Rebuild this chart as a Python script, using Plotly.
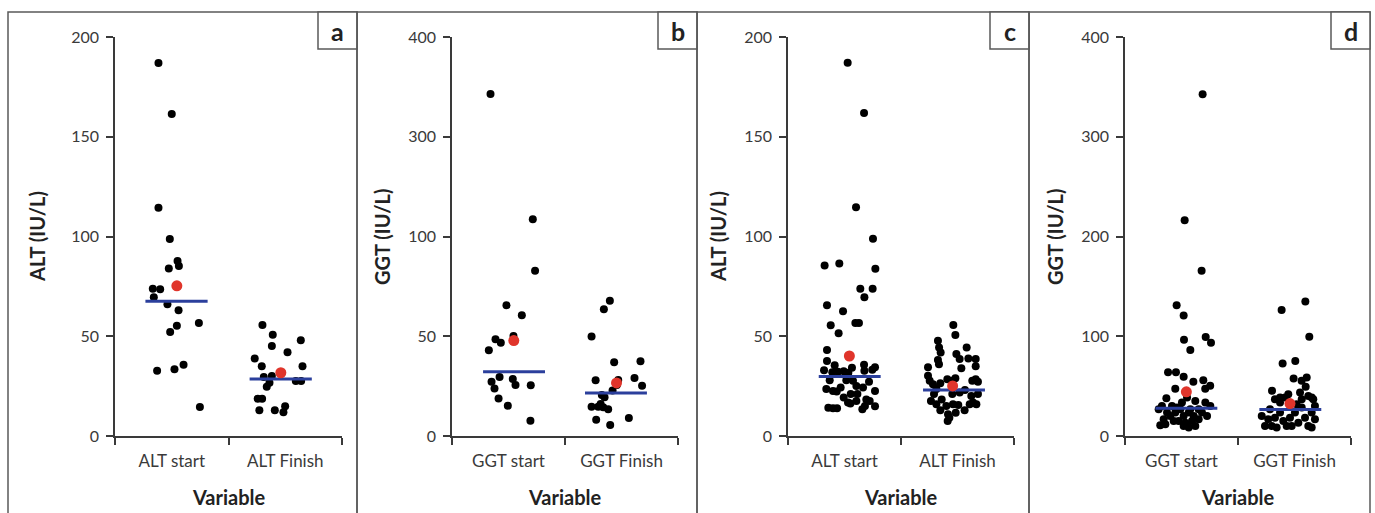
import plotly.graph_objects as go

W, H = 1375, 513

# ---------------- data ----------------
categories_alt = ["ALT start", "ALT Finish"]
categories_ggt = ["GGT start", "GGT Finish"]

# Panel a (ALT)
a_start_vals = [187.0, 161.4, 114.4, 98.7, 87.7, 85.2, 84.0, 73.8, 73.5, 69.5, 66.0, 63.0, 56.6, 55.3, 52.1, 35.7, 33.4, 32.7, 14.5]
a_start_jit = [-0.117, 0.0, -0.117, -0.017, 0.051, 0.063, -0.026, -0.167, -0.102, -0.158, -0.038, 0.060, 0.239, 0.045, -0.014, 0.104, 0.024, -0.129, 0.248]
a_finish_vals = [55.6, 50.8, 48.0, 45.1, 42.0, 38.8, 34.9, 34.9, 30.1, 29.6, 27.6, 27.6, 26.7, 24.7, 18.7, 18.7, 12.9, 12.9, 14.9, 11.9]
a_finish_jit = [-0.201, -0.110, 0.137, -0.118, 0.020, -0.269, -0.207, 0.152, -0.118, -0.189, 0.093, 0.140, -0.139, -0.163, -0.243, -0.204, -0.228, -0.092, -0.001, -0.016]
a_means = [75.3, 31.7]
a_means_jit = [0.045, -0.039]
a_medians = [67.5, 28.6]
a_medians_jit = [0.042, -0.040]

# Panel b (GGT) - plotted on the printed (non-uniform label) scale
b_tickvals = [0, 100, 200, 300, 400]
b_ticktext = ["0", "50", "100", "300", "400"]
b_start_vals = [342.8, 217.4, 165.6, 131.1, 121.1, 100.3, 97.0, 93.6, 86.0, 54.5, 59.2, 57.2, 51.2, 50.8, 47.5, 37.5, 30.4, 15.4]
b_start_jit = [-0.159, 0.215, 0.235, -0.018, 0.118, 0.044, -0.115, -0.068, -0.174, -0.150, -0.079, 0.038, 0.062, 0.197, -0.124, -0.088, -0.006, 0.194]
b_finish_vals = [135.5, 127.1, 99.7, 73.9, 74.9, 55.9, 56.2, 58.2, 51.2, 50.5, 45.5, 41.1, 38.8, 29.4, 29.4, 32.1, 28.8, 26.8, 16.4, 18.1, 11.0]
b_finish_jit = [-0.103, -0.156, -0.265, -0.065, 0.168, -0.229, -0.029, 0.115, -0.041, 0.182, -0.079, -0.174, -0.150, -0.265, -0.206, -0.185, -0.162, -0.118, -0.224, 0.065, -0.100]
b_means = [95.7, 53.2]
b_means_jit = [0.047, -0.044]
b_medians = [64.5, 43.1]
b_medians_jit = [0.049, -0.049]

# Panel c (ALT)
c_start_vals = [187.1, 161.9, 114.7, 98.9, 85.5, 86.5, 83.8, 73.8, 73.8, 69.6, 65.5, 62.5, 55.5, 56.7, 56.7, 51.5, 43.1, 37.6, 35.5, 33.0,
                35.7, 34.4, 34.2, 31.9, 32.2, 32.4, 31.7, 32.7, 33.2, 28.0, 28.0, 27.7, 25.1, 27.2, 23.5, 22.6, 24.3, 22.3, 21.0, 21.0,
                24.3, 22.6, 19.3, 16.8, 17.6, 18.3, 17.6, 14.2, 13.9, 13.9, 16.3, 13.4, 15.1, 14.9]
c_start_jit = [0.028, 0.173, 0.102, 0.252, -0.176, -0.046, 0.273, 0.140, 0.249, 0.176, -0.155, -0.013, -0.122, 0.096, 0.128, -0.052, -0.155, -0.155, -0.087, -0.181,
               0.173, 0.270, 0.066, -0.108, -0.058, -0.007, 0.034, 0.176, 0.246, -0.131, 0.016, 0.075, 0.105, 0.217, -0.161, -0.102, -0.034, -0.069, 0.055, 0.114,
               0.164, 0.270, -0.007, 0.031, 0.105, 0.193, 0.223, -0.143, -0.102, -0.066, 0.052, 0.158, 0.181, 0.270]
c_finish_vals = [55.7, 50.6, 47.8, 44.4, 44.4, 41.9, 41.1, 38.6, 38.9, 38.6, 38.1, 36.0, 34.4, 33.9, 34.9, 30.2, 28.5, 27.7, 29.0, 27.7,
                 27.2, 28.5, 27.7, 26.0, 26.5, 23.5, 21.0, 21.0, 21.8, 23.0, 20.1, 21.0, 17.6, 15.9, 18.3, 15.1, 12.9, 15.9, 15.6, 12.9,
                 15.9, 16.8, 15.9, 10.9, 9.2, 7.5, 11.7]
c_finish_jit = [-0.037, -0.019, -0.173, 0.081, -0.163, -0.149, -0.010, 0.019, 0.096, 0.161, -0.173, -0.164, -0.261, 0.034, 0.161, -0.261, -0.090, -0.046, -0.019, 0.131,
                0.181, 0.161, -0.246, -0.217, -0.152, -0.187, -0.208, -0.046, 0.019, 0.066, 0.122, 0.181, -0.235, -0.187, -0.140, -0.099, -0.152, -0.040, 0.007, 0.063,
                0.108, 0.137, 0.167, -0.084, -0.072, -0.087, -0.016]
c_means = [40.1, 25.1]
c_means_jit = [0.043, -0.043]
c_medians = [29.8, 23.0]
c_medians_jit = [0.046, -0.031]

# Panel d (GGT)
d_start_vals = [342.7, 216.3, 165.6, 131.1, 120.7, 99.2, 96.6, 93.5, 86.2, 64.0, 64.0, 59.3, 56.0, 54.3, 50.3, 47.3, 47.3, 37.9,
                30.2, 23.5, 30.2, 16.8, 11.8, 10.8, 23.5, 26.8, 20.1, 15.1, 13.4, 26.8, 20.1, 8.4, 10.1, 16.8, 23.5, 20.1, 30.2, 33.5,
                35.2, 20.1, 15.1, 33.5, 38.5, 28.5, 23.5, 26.8, 10.1, 15.1, 26.8]
d_start_jit = [0.187, 0.028, 0.178, -0.043, 0.019, 0.214, 0.022, 0.261, 0.078, -0.119, -0.049, 0.019, 0.193, 0.105, 0.254, 0.210, -0.055, -0.134,
               -0.173, -0.128, -0.084, -0.158, -0.143, -0.188, -0.055, -0.010, 0.019, -0.025, 0.034, 0.078, 0.108, 0.064, 0.122, 0.152, 0.181, 0.226, 0.255, 0.211,
               0.122, -0.099, -0.069, 0.004, 0.049, -0.040, 0.064, 0.152, 0.019, 0.093, -0.202]
d_finish_vals = [134.8, 126.4, 99.6, 75.1, 72.8, 57.7, 58.7, 55.3, 49.3, 45.3, 43.6, 41.9, 38.6, 38.6,
                 40.2, 36.9, 36.9, 26.8, 20.1, 10.1, 10.1, 18.4, 23.5, 15.1, 10.1, 18.4, 23.5, 13.4, 28.5, 18.4, 10.1, 23.5, 30.2, 16.8,
                 36.9, 31.9, 33.5, 38.5, 16.8, 10.1, 8.4, 8.4]
d_finish_jit = [0.096, -0.114, 0.131, 0.007, -0.105, -0.008, 0.108, 0.063, 0.099, -0.199, 0.049, -0.055, -0.128, 0.152,
                0.122, 0.166, -0.173, -0.217, -0.290, -0.261, -0.202, -0.173, -0.128, -0.099, -0.069, -0.040, 0.004, 0.034, 0.064, 0.093, 0.122, 0.152, 0.181, 0.181,
                0.064, 0.019, -0.128, -0.084, -0.232, -0.025, -0.158, 0.152]
d_means = [44.3, 32.5]
d_means_jit = [0.043, -0.040]
d_medians = [27.8, 26.5]
d_medians_jit = [0.043, -0.037]

alt_tickvals = [0, 50, 100, 150, 200]
ggt_tickvals = [0, 100, 200, 300, 400]

# ---------------- styling ----------------
FONT = "Lato"
TXT = "#3a3a3a"
AXC = "#3a3a3a"
FRAME = "#5a5a5a"
MED_HALF = 0.274

panels = [
    dict(key="a", cats=categories_alt, ytitle="ALT (IU/L)", yrange=[0, 200], tv=alt_tickvals, tt=[str(v) for v in alt_tickvals],
         sv=a_start_vals, sj=a_start_jit, fv=a_finish_vals, fj=a_finish_jit, mv=a_means, mj=a_means_jit, dv=a_medians, dj=a_medians_jit,
         px=(115, 342), frame=(8, 357), ytx=37),
    dict(key="b", cats=categories_ggt, ytitle="GGT (IU/L)", yrange=[0, 400], tv=b_tickvals, tt=b_ticktext,
         sv=b_start_vals, sj=b_start_jit, fv=b_finish_vals, fj=b_finish_jit, mv=b_means, mj=b_means_jit, dv=b_medians, dj=b_medians_jit,
         px=(452, 678), frame=(357, 697), ytx=382),
    dict(key="c", cats=categories_alt, ytitle="ALT (IU/L)", yrange=[0, 200], tv=alt_tickvals, tt=[str(v) for v in alt_tickvals],
         sv=c_start_vals, sj=c_start_jit, fv=c_finish_vals, fj=c_finish_jit, mv=c_means, mj=c_means_jit, dv=c_medians, dj=c_medians_jit,
         px=(788, 1014), frame=(697, 1029), ytx=718),
    dict(key="d", cats=categories_ggt, ytitle="GGT (IU/L)", yrange=[0, 400], tv=ggt_tickvals, tt=[str(v) for v in ggt_tickvals],
         sv=d_start_vals, sj=d_start_jit, fv=d_finish_vals, fj=d_finish_jit, mv=d_means, mj=d_means_jit, dv=d_medians, dj=d_medians_jit,
         px=(1125, 1351), frame=(1029, 1370), ytx=1055),
]

PLOT_TOP, PLOT_BOT = 37, 436
y_dom = [(H - PLOT_BOT) / H, (H - PLOT_TOP) / H]

fig = go.Figure()
layout = dict(width=W, height=H, margin=dict(l=0, r=0, t=0, b=0, pad=0, autoexpand=False), paper_bgcolor="white", plot_bgcolor="white",
              showlegend=False, font=dict(family=FONT, color=TXT), shapes=[], annotations=[])

def fx(px):
    return px / W

def fy(py):
    return (H - py) / H

for i, p in enumerate(panels):
    n = "" if i == 0 else str(i + 1)
    xa, ya = "x" + n, "y" + n
    # points
    fig.add_trace(go.Scatter(x=[1 + j for j in p["sj"]] + [2 + j for j in p["fj"]], y=p["sv"] + p["fv"],
                             mode="markers", marker=dict(color="black", size=8, line=dict(width=0)),
                             xaxis=xa, yaxis=ya, hoverinfo="skip", cliponaxis=False))
    # medians
    for k in range(2):
        c = 1 + k + p["dj"][k]
        fig.add_trace(go.Scatter(x=[c - MED_HALF, c + MED_HALF], y=[p["dv"][k], p["dv"][k]], mode="lines",
                                 line=dict(color="#2b3f9c", width=3), xaxis=xa, yaxis=ya, hoverinfo="skip"))
    # means
    fig.add_trace(go.Scatter(x=[1 + p["mj"][0], 2 + p["mj"][1]], y=p["mv"], mode="markers",
                             marker=dict(color="#e0352b", size=11, line=dict(width=0)), xaxis=xa, yaxis=ya, hoverinfo="skip"))

    layout["xaxis" + n] = dict(domain=[fx(p["px"][0]), fx(p["px"][1])], anchor=ya, range=[0.5, 2.5],
                               tickvals=[1, 2], ticktext=p["cats"], ticks="", showgrid=False, zeroline=False,
                               showline=True, linecolor=AXC, linewidth=1.5, automargin=False,
                               tickfont=dict(family=FONT, size=17, color=TXT), ticklabelstandoff=9,
                               minor=dict(tickvals=[0.5, 1.5, 2.5], ticks="outside", ticklen=7, tickcolor=AXC, tickwidth=1.5, showgrid=False),
                               fixedrange=True)
    layout["yaxis" + n] = dict(domain=y_dom, anchor=xa, range=p["yrange"], tickvals=p["tv"], ticktext=p["tt"],
                               ticks="outside", ticklen=7, tickcolor=AXC, tickwidth=1.5, showgrid=False, zeroline=False,
                               showline=True, linecolor=AXC, linewidth=1.5, automargin=False,
                               tickfont=dict(family=FONT, size=16, color=TXT), ticklabelstandoff=4, fixedrange=True)

    # panel frame
    layout["shapes"].append(dict(type="rect", xref="paper", yref="paper", x0=fx(p["frame"][0]), x1=fx(p["frame"][1]),
                                 y0=-0.05, y1=fy(12), line=dict(color=FRAME, width=1.5), fillcolor="rgba(0,0,0,0)", layer="below"))
    # letter box
    bx1 = p["frame"][1]
    bx0 = bx1 - 39
    layout["shapes"].append(dict(type="rect", xref="paper", yref="paper", x0=fx(bx0), x1=fx(bx1),
                                 y0=fy(49), y1=fy(12), line=dict(color=FRAME, width=1.5), fillcolor="white", layer="below"))
    layout["annotations"].append(dict(text="<b>%s</b>" % p["key"], xref="paper", yref="paper", x=fx((bx0 + bx1) / 2), y=fy(30.5),
                                      xanchor="center", yanchor="middle", showarrow=False,
                                      font=dict(family=FONT, size=25, color="#222222")))
    # y title
    layout["annotations"].append(dict(text="<b>%s</b>" % p["ytitle"], xref="paper", yref="paper", x=fx(p["ytx"]), y=fy(237),
                                      xanchor="center", yanchor="middle", textangle=-90, showarrow=False,
                                      font=dict(family=FONT, size=20, color="#222222")))
    # x title
    layout["annotations"].append(dict(text="<b>Variable</b>", xref="paper", yref="paper", x=fx((p["px"][0] + p["px"][1]) / 2), y=fy(497),
                                      xanchor="center", yanchor="middle", showarrow=False,
                                      font=dict(family=FONT, size=20, color="#222222")))

fig.update_layout(**layout)
fig.write_html("out.html")
